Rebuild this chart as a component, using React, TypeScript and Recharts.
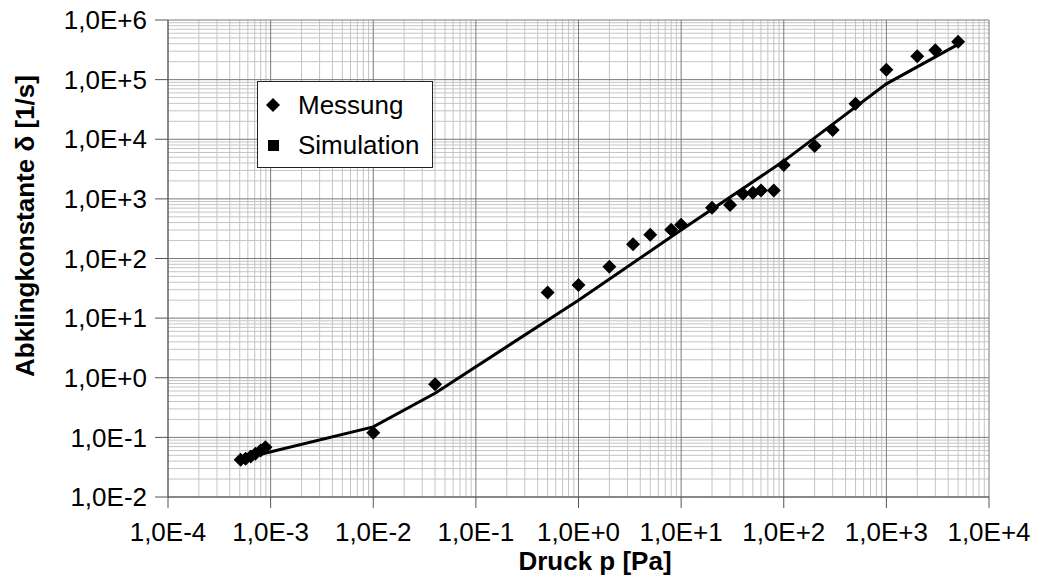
import {
  ComposedChart,
  XAxis,
  YAxis,
  CartesianGrid,
  Scatter,
  Line,
  Label,
} from "recharts";

// Messung (measurement): pressure [Pa] and decay constant [1/s]
const pressureMess = [
  5.1e-4, 5.7e-4, 6.4e-4, 7.1e-4, 8e-4, 8.9e-4, 1e-2, 4e-2, 0.5, 1, 2, 3.4, 5,
  8, 10, 20, 30, 40, 50, 60, 80, 100, 200, 300, 500, 1000, 2000, 3000, 5000,
];
const deltaMess = [
  0.042, 0.044, 0.048, 0.053, 0.06, 0.068, 0.12, 0.78, 27, 36, 73, 173, 251,
  304, 369, 708, 790, 1215, 1262, 1380, 1380, 3690, 7730, 14360, 39400, 147000,
  247000, 310000, 432000,
];

// Simulation curve
const pressureSim = [8e-4, 1e-2, 4e-2, 1, 10, 100, 1000, 5000];
const deltaSim = [0.052, 0.15, 0.55, 20, 300, 4300, 85000, 390000];

const xTicks = [1e-4, 1e-3, 1e-2, 1e-1, 1, 10, 100, 1000, 10000];
const yTicks = [1e-2, 1e-1, 1, 10, 100, 1000, 1e4, 1e5, 1e6];

const messData = pressureMess.map((p, i) => ({ p, d: deltaMess[i] }));
const simData = pressureSim.map((p, i) => ({ p, d: deltaSim[i] }));

const minorOf = (ticks: number[]) =>
  ticks.slice(0, -1).flatMap((t) => [2, 3, 4, 5, 6, 7, 8, 9].map((k) => t * k));

const fmt = (v: number) => {
  const e = Math.round(Math.log10(v));
  return `1,0E${e >= 0 ? "+" : "-"}${Math.abs(e)}`;
};

const FONT = '"Liberation Sans", Arial, sans-serif';

const Diamond = (props: any) => {
  const { cx, cy } = props;
  if (cx == null || cy == null) return null;
  const r = 7;
  return (
    <polygon
      points={`${cx},${cy - r} ${cx + r},${cy} ${cx},${cy + r} ${cx - r},${cy}`}
      fill="#000"
    />
  );
};

export default function App() {
  return (
    <div
      style={{
        position: "absolute",
        left: 0,
        top: 0,
        width: 1037,
        height: 579,
        background: "#fff",
        fontFamily: FONT,
      }}
    >
      <ComposedChart
        width={1037}
        height={579}
        margin={{ top: 20, right: 48, bottom: 0, left: 0 }}
      >
        <CartesianGrid
          stroke="#c4c4c4"
          strokeWidth={1}
          horizontalValues={minorOf(yTicks)}
          verticalValues={minorOf(xTicks)}
        />
        <CartesianGrid
          stroke="#7a7a7a"
          strokeWidth={1}
          horizontalValues={yTicks}
          verticalValues={xTicks}
        />
        <XAxis
          type="number"
          dataKey="p"
          scale="log"
          domain={[1e-4, 1e4]}
          ticks={xTicks}
          interval={0}
          allowDataOverflow
          tickFormatter={fmt}
          height={82}
          tickSize={11}
          tickMargin={15}
          axisLine={{ stroke: "#555" }}
          tickLine={{ stroke: "#555" }}
          tick={{ fill: "#000", fontSize: 26, fontFamily: FONT }}
        >
          <Label
            content={() => (
              <text
                x={595}
                y={570}
                textAnchor="middle"
                fontSize={26}
                fontWeight="bold"
                fontFamily={FONT}
                fill="#000"
              >
                Druck p [Pa]
              </text>
            )}
          />
        </XAxis>
        <YAxis
          type="number"
          dataKey="d"
          scale="log"
          domain={[1e-2, 1e6]}
          ticks={yTicks}
          interval={0}
          allowDataOverflow
          tickFormatter={fmt}
          width={168}
          tickSize={13}
          tickMargin={8}
          axisLine={{ stroke: "#555" }}
          tickLine={{ stroke: "#555" }}
          tick={{ fill: "#000", fontSize: 26, fontFamily: FONT }}
        >
          <Label
            content={() => (
              <text
                x={25}
                y={226}
                transform="rotate(-90 25 226)"
                textAnchor="middle"
                dominantBaseline="central"
                fontSize={26}
                fontWeight="bold"
                fontFamily={FONT}
                fill="#000"
              >
                Abklingkonstante δ [1/s]
              </text>
            )}
          />
        </YAxis>
        <Line
          data={simData}
          dataKey="d"
          type="linear"
          stroke="#000"
          strokeWidth={3}
          dot={false}
          activeDot={false}
          isAnimationActive={false}
        />
        <Scatter
          data={messData}
          dataKey="d"
          shape={Diamond}
          isAnimationActive={false}
        />
      </ComposedChart>
      <div
        style={{
          position: "absolute",
          left: 257,
          top: 81,
          width: 176,
          height: 87,
          boxSizing: "border-box",
          border: "1px solid #222",
          background: "#fff",
          fontSize: 26,
          lineHeight: "40px",
          paddingTop: 3,
        }}
      >
        <div style={{ display: "flex", alignItems: "center", height: 40 }}>
          <svg width={40} height={40} style={{ flex: "none" }}>
            <polygon points="15,13 22,20 15,27 8,20" fill="#000" />
          </svg>
          <span>Messung</span>
        </div>
        <div style={{ display: "flex", alignItems: "center", height: 40 }}>
          <svg width={40} height={40} style={{ flex: "none" }}>
            <rect x={10} y={15} width={11} height={11} fill="#000" />
          </svg>
          <span>Simulation</span>
        </div>
      </div>
    </div>
  );
}
